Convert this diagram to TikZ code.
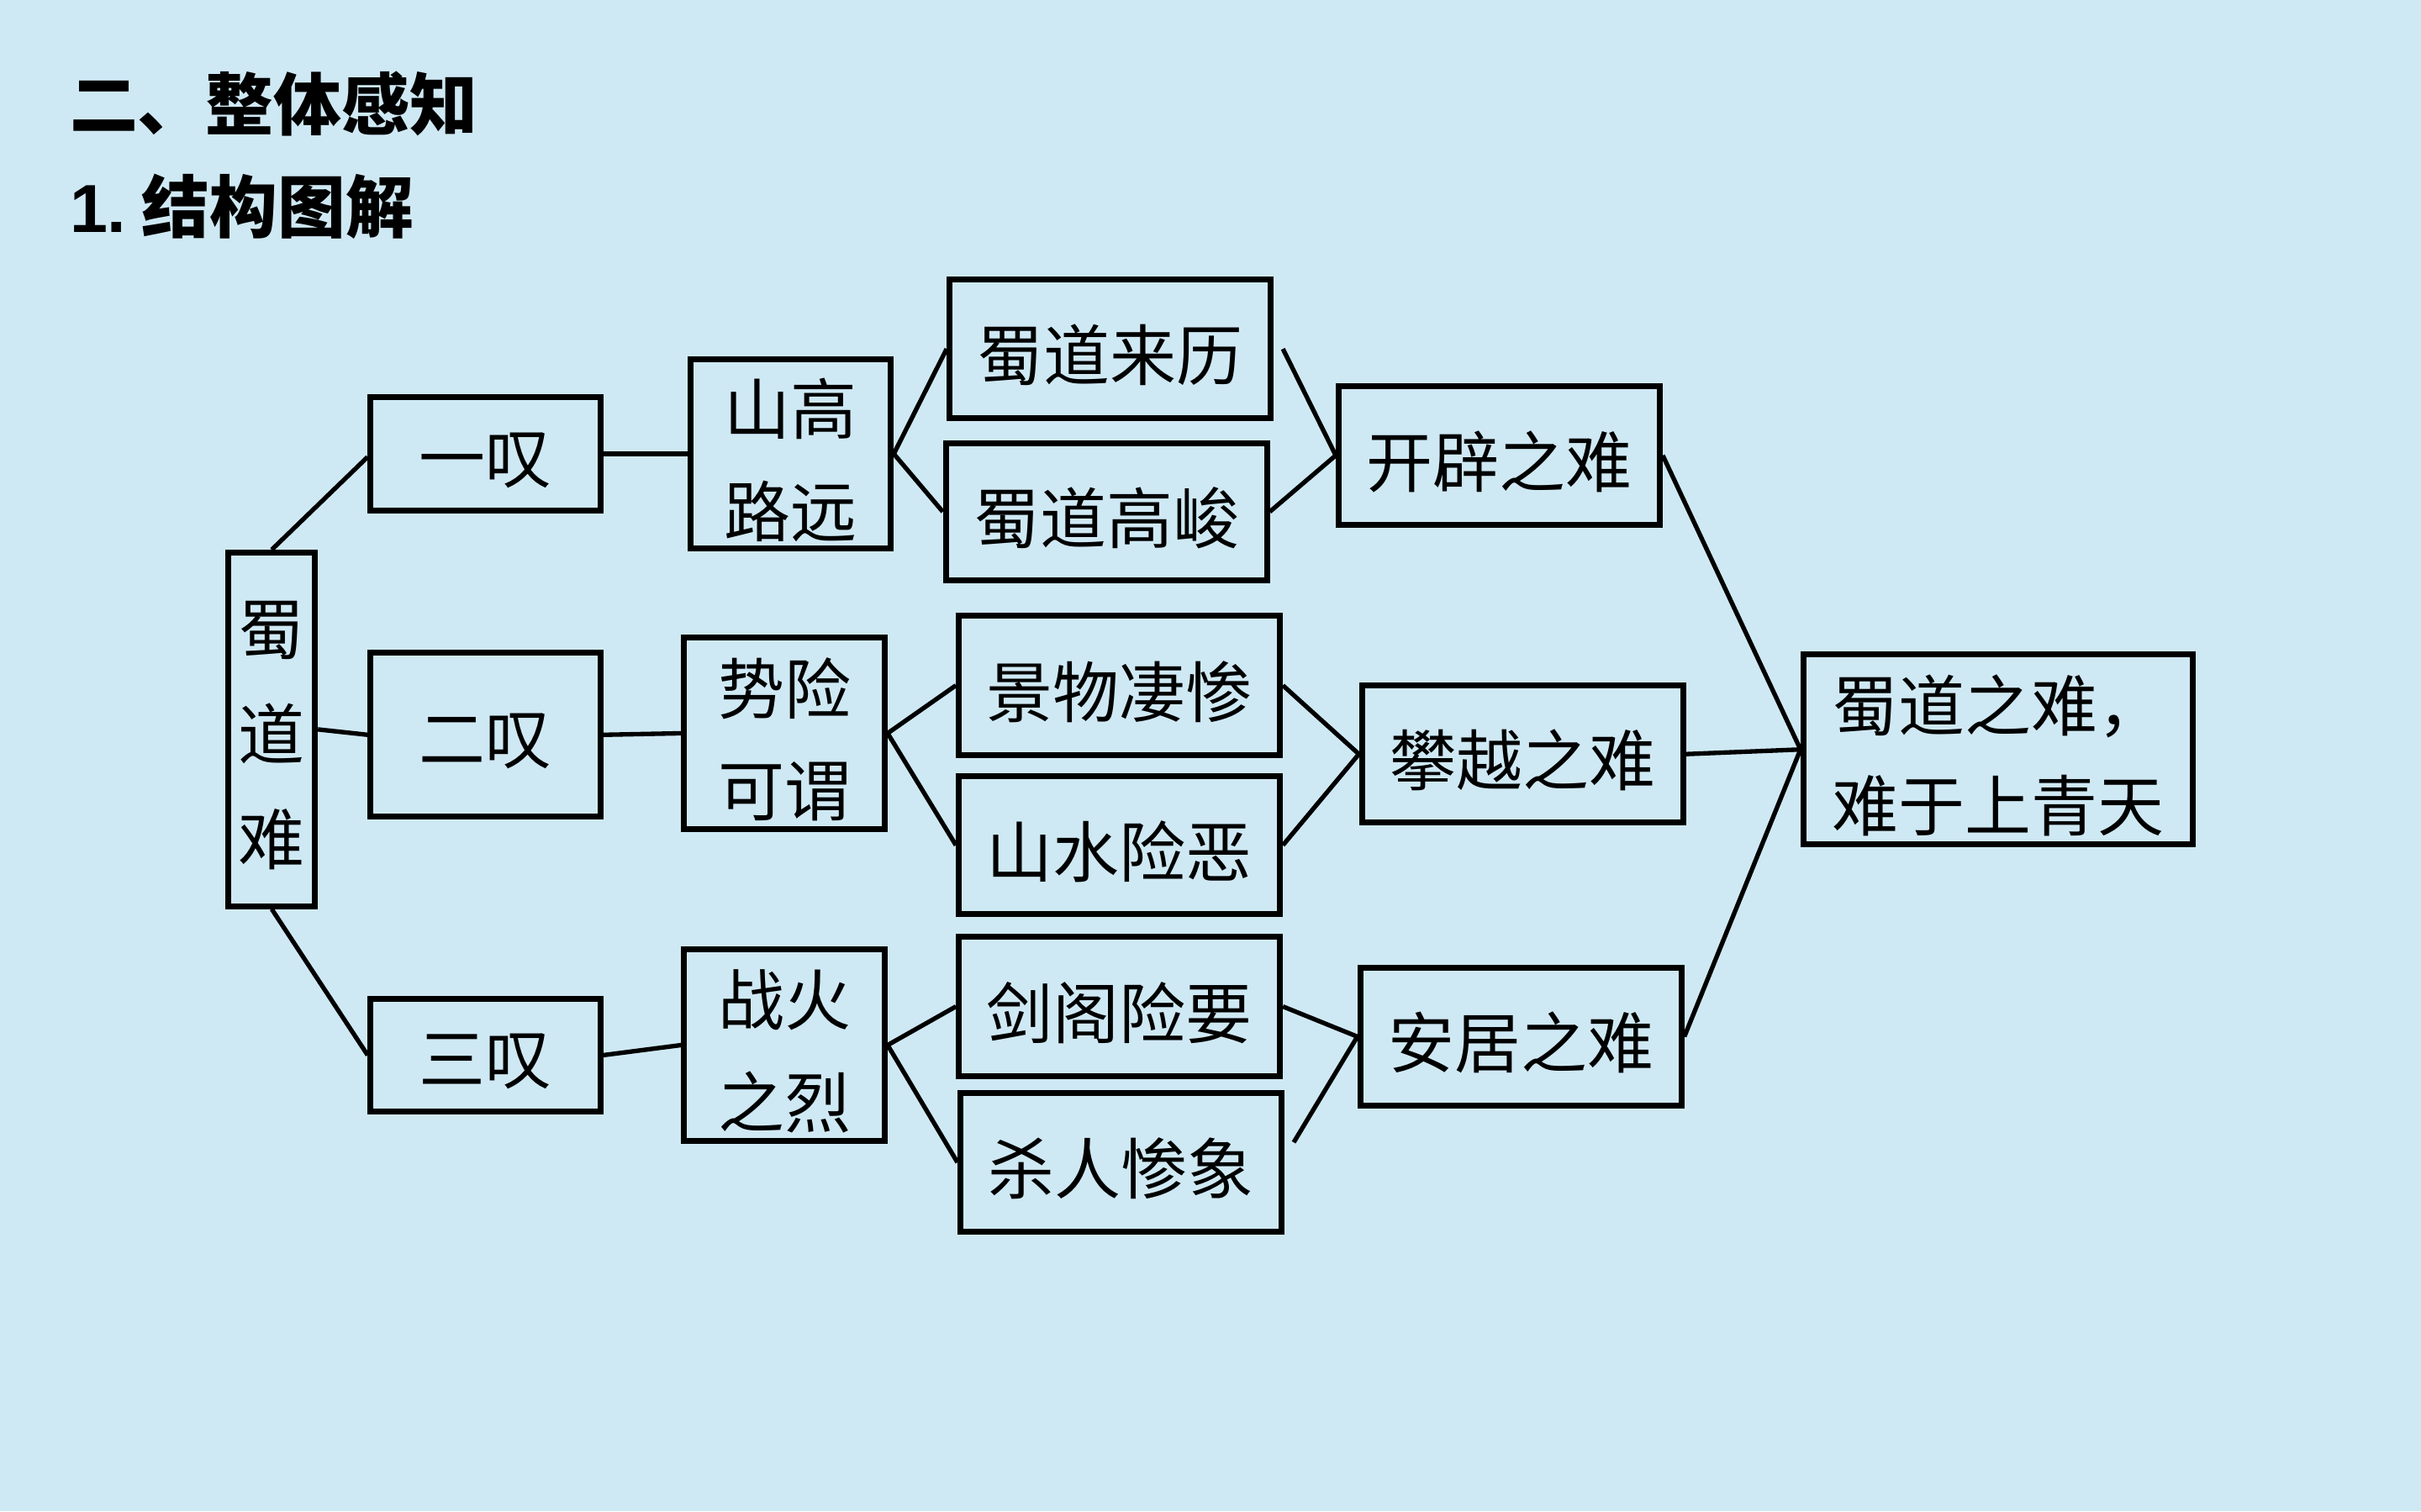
\documentclass[tikz,border=0pt]{standalone}
\usepackage{fontspec}
\newfontfamily\cjk{Noto Sans CJK SC}
\newfontfamily\latn{Liberation Sans}
\definecolor{bgblue}{RGB}{207,233,244}
\newcommand\dn[1]{\raisebox{-4pt}[\height][\depth]{#1}}
\tikzset{
  bx/.style={draw=black, line width=3.8pt, inner sep=0pt, align=center,
    font=\cjk\fontsize{43}{66}\selectfont},
  conn/.style={line width=2.9pt, black},
  ttl/.style={anchor=west, inner sep=0pt, font=\cjk\bfseries\fontsize{44}{50}\selectfont}
}
\begin{document}
\begin{tikzpicture}[x=1pt,y=1pt]
\fill[bgblue] (0,0) rectangle (1568,-979);
\useasboundingbox (0,0) rectangle (1568,-979);
% titles
\node[ttl] (t1) at (45,-67) {二、整体感知};
\node[ttl] (t2) at (45,-134) {{\latn\bfseries 1.}\hspace{10pt}结构图解};
% column 1
\node[bx, minimum width=56, minimum height=229, font=\cjk\fontsize{43}{68}\selectfont] (shu) at (176,-472.5) {\dn{蜀}\\\dn{道}\\\dn{难}};
% column 2
\node[bx, minimum width=149, minimum height=74] (yi) at (314.5,-294) {\dn{一叹}};
\node[bx, minimum width=149, minimum height=106] (er) at (314.5,-476) {\dn{二叹}};
\node[bx, minimum width=149, minimum height=73] (san) at (314.5,-683.5) {\dn{三叹}};
% column 3
\node[bx, minimum width=130, minimum height=122] (shangao) at (512,-294) {\dn{山高}\\\dn{路远}};
\node[bx, minimum width=130, minimum height=124] (shixian) at (508,-475) {\dn{势险}\\\dn{可谓}};
\node[bx, minimum width=130, minimum height=124] (zhanhuo) at (508,-677) {\dn{战火}\\\dn{之烈}};
% column 4
\node[bx, minimum width=208, minimum height=90] (laili) at (719,-226) {\dn{蜀道来历}};
\node[bx, minimum width=208, minimum height=89] (gaojun) at (716.5,-331.5) {\dn{蜀道高峻}};
\node[bx, minimum width=208, minimum height=90] (jingwu) at (725,-444) {\dn{景物凄惨}};
\node[bx, minimum width=208, minimum height=89] (shanshui) at (725,-547.5) {\dn{山水险恶}};
\node[bx, minimum width=208, minimum height=90] (jiange) at (725,-652) {\dn{剑阁险要}};
\node[bx, minimum width=208, minimum height=90] (sharen) at (726,-753) {\dn{杀人惨象}};
% column 5
\node[bx, minimum width=208, minimum height=90] (kaipi) at (971,-295) {\dn{开辟之难}};
\node[bx, minimum width=208, minimum height=89] (panyue) at (986,-488.5) {\dn{攀越之难}};
\node[bx, minimum width=208, minimum height=89] (anju) at (985,-671.5) {\dn{安居之难}};
% column 6
\node[bx, minimum width=252, minimum height=123, align=left, font=\cjk\fontsize{43}{65}\selectfont] (final) at (1294,-485.5) {\dn{蜀道之难，}\\\dn{难于上青天}};
% connectors
\draw[conn] (shu.north) -- ([yshift=-2pt]yi.west);
\draw[conn] (shu.east) -- (er.west);
\draw[conn] (shu.south) -- (san.west);
\draw[conn] (yi.east) -- (shangao.west);
\draw[conn] (er.east) -- (shixian.west);
\draw[conn] (san.east) -- (zhanhuo.west);
\draw[conn] (shangao.east) -- (laili.west);
\draw[conn] (shangao.east) -- (gaojun.west);
\draw[conn] (shixian.east) -- (jingwu.west);
\draw[conn] (shixian.east) -- (shanshui.west);
\draw[conn] (zhanhuo.east) -- (jiange.west);
\draw[conn] (zhanhuo.east) -- (sharen.west);
\draw[conn] ([xshift=6pt]laili.east) -- (kaipi.west);
\draw[conn] (gaojun.east) -- (kaipi.west);
\draw[conn] (jingwu.east) -- (panyue.west);
\draw[conn] (shanshui.east) -- (panyue.west);
\draw[conn] (jiange.east) -- (anju.west);
\draw[conn] ([xshift=6pt,yshift=13pt]sharen.east) -- (anju.west);
\draw[conn] (kaipi.east) -- (final.west);
\draw[conn] (panyue.east) -- (final.west);
\draw[conn] (anju.east) -- (final.west);
\end{tikzpicture}
\end{document}
